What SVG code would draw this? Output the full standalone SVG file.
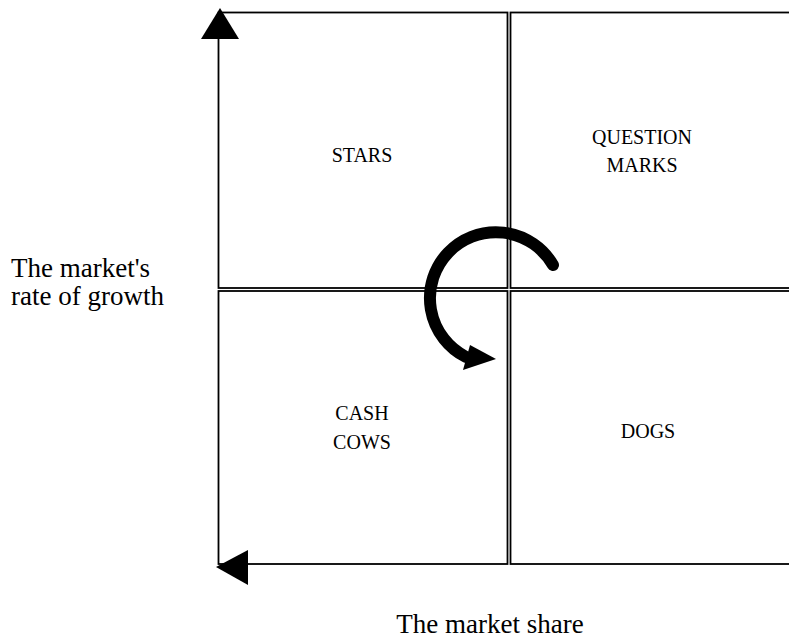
<svg xmlns="http://www.w3.org/2000/svg" width="789" height="639" viewBox="0 0 789 639">
<style>
.q{fill:none;stroke:#000;stroke-width:1.8}
.t{font-family:"Liberation Serif","Times New Roman",serif;font-size:20px;fill:#000}
.a{font-family:"Liberation Serif","Times New Roman",serif;font-size:27px;fill:#000}
.c{text-anchor:middle}
</style>
<rect width="789" height="639" fill="#fff"/>
<g id="quadrants">
<g id="stars"><rect class="q" x="218.5" y="12.5" width="289" height="275.5"/><text class="t c" x="362" y="162">STARS</text></g>
<g id="question-marks"><rect class="q" x="510.5" y="12.5" width="290" height="275.5"/><text class="t c" x="642" y="144">QUESTION</text><text class="t c" x="642" y="172">MARKS</text></g>
<g id="cash-cows"><rect class="q" x="218.5" y="291" width="289" height="273"/><text class="t c" x="362" y="420">CASH</text><text class="t c" x="362" y="449">COWS</text></g>
<g id="dogs"><rect class="q" x="510.5" y="291" width="290" height="273"/><text class="t c" x="648" y="438">DOGS</text></g>
</g>
<g id="axes">
<polygon points="220,8 239,39 201,39" fill="#000"/>
<polygon points="216,567 248,550 248,585" fill="#000"/>
<text class="a" x="11" y="277">The market's</text>
<text class="a" x="11" y="305">rate of growth</text>
<text class="a c" x="490" y="633">The market share</text>
</g>
<g id="connectors">
<path d="M553,265 A66,66 0 1 0 466,357" fill="none" stroke="#000" stroke-width="12" stroke-linecap="round"/>
<polygon points="470,345 496,359 463,370" fill="#000"/>
</g>
</svg>
